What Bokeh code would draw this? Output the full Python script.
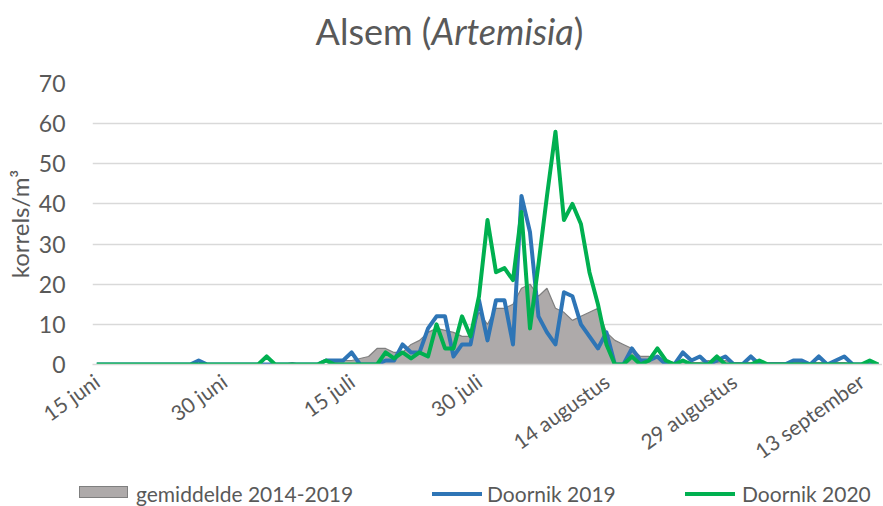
from bokeh.plotting import figure
from bokeh.models import Range1d, FixedTicker, Div
from bokeh.layouts import column
from bokeh.embed import file_html
from bokeh.resources import INLINE

# day index 0 = 15 juni
days = [
    0, 1, 2, 3, 4, 5, 6, 7, 8, 9,
    10, 11, 12, 13, 14, 15, 16, 17, 18, 19,
    20, 21, 22, 23, 24, 25, 26, 27, 28, 29,
    30, 31, 32, 33, 34, 35, 36, 37, 38, 39,
    40, 41, 42, 43, 44, 45, 46, 47, 48, 49,
    50, 51, 52, 53, 54, 55, 56, 57, 58, 59,
    60, 61, 62, 63, 64, 65, 66, 67, 68, 69,
    70, 71, 72, 73, 74, 75, 76, 77, 78, 79,
    80, 81, 82, 83, 84, 85, 86, 87, 88, 89,
    90, 91, 92,
]

gemiddelde = [
    0, 0, 0, 0, 0, 0, 0, 0, 0, 0,
    0, 0, 0, 0, 0, 0, 0, 0, 0, 0,
    0, 0, 0, 0.5, 0, 0, 0, 0, 0.5, 1,
    1, 1.5, 2, 4, 4, 3, 3, 5, 6, 8,
    9, 8.5, 8, 7, 7, 13, 10, 14, 14, 15,
    19, 20, 17, 19, 14, 13, 11, 12, 13, 14,
    8, 6, 5, 4, 2, 2, 1.5, 1, 0.5, 1,
    0.5, 0.5, 1, 0.5, 1, 0.5, 0.5, 0.5, 0.5, 0.5,
    0.5, 0.5, 0.5, 0.5, 0.5, 0.5, 0.5, 0.5, 0.5, 0.3,
    0.3, 0.3, 0.3,
]

doornik_2019 = [
    0, 0, 0, 0, 0, 0, 0, 0, 0, 0,
    0, 0, 1, 0, 0, 0, 0, 0, 0, 0,
    0, 0, 0, 0, 0, 0, 0, 1, 1, 1,
    3, 0, 0, 0, 1, 1, 5, 3, 3, 9,
    12, 12, 2, 5, 5, 16, 6, 16, 16, 5,
    42, 33, 12, 8, 5, 18, 17, 10, 7, 4,
    8, 0, 0, 4, 1, 1, 2, 0, 0, 3,
    1, 2, 0, 1, 2, 0, 0, 2, 0, 0,
    0, 0, 1, 1, 0, 2, 0, 1, 2, 0,
    0, 0, 0,
]

doornik_2020 = [
    0, 0, 0, 0, 0, 0, 0, 0, 0, 0,
    0, 0, 0, 0, 0, 0, 0, 0, 0, 0,
    2, 0, 0, 0, 0, 0, 0, 1, 0, 0,
    0, 0, 0, 0, 3, 1.5, 3, 1.5, 3, 2,
    10, 4, 4, 12, 7, 17, 36, 23, 24, 21,
    38, 9, 25, 42, 58, 36, 40, 35, 23, 15,
    5, 0, 0, 2, 0, 1, 4, 1, 0, 1,
    0, 0, 0, 2, 0, 0, 0, 0, 1, 0,
    0, 0, 0, 0, 0, 0, 0, 0, 0, 0,
    0, 1, 0,
]

x_tick_days = [0, 15, 30, 45, 60, 75, 90]
x_tick_labels = ["15 juni", "30 juni", "15 juli", "30 juli",
                 "14 augustus", "29 augustus", "13 september"]
y_ticks = [0, 10, 20, 30, 40, 50, 60, 70]

series_names = ["gemiddelde 2014-2019", "Doornik 2019", "Doornik 2020"]

TXT = "#595959"
FONT = "Lato"
AVG_FILL, AVG_LINE = "#AEAAAA", "#7F7F7F"
BLUE, GREEN = "#2E75B6", "#00B050"

title = Div(
    text=('<div style="width:882px;text-align:center;font-family:Lato;'
          'font-size:36px;color:#595959;line-height:44px;padding-top:9px;'
          'padding-left:17px;box-sizing:border-box;">'
          'Alsem (<i>Artemisia</i>)</div>'),
    width=882, height=60, margin=0,
)

p = figure(
    width=882, height=421,
    x_range=Range1d(-0.5, 92.5), y_range=Range1d(0, 70),
    output_backend="svg", toolbar_location=None,
    min_border_left=92, min_border_right=0,
    min_border_top=23, min_border_bottom=117,
    margin=0,
)
p.outline_line_color = None
p.background_fill_color = "white"
p.border_fill_color = "white"

p.xgrid.grid_line_color = None
p.ygrid.grid_line_color = "#d9d9d9"
p.ygrid.grid_line_width = 1.5

p.yaxis.ticker = FixedTicker(ticks=y_ticks)
p.yaxis.axis_line_color = None
p.yaxis.major_tick_line_color = None
p.yaxis.minor_tick_line_color = None
p.yaxis.major_label_text_font = FONT
p.yaxis.major_label_text_font_size = "23px"
p.yaxis.major_label_text_color = TXT
p.yaxis.major_label_standoff = 21
p.yaxis.axis_label = "korrels/m³"
p.yaxis.axis_label_text_font = FONT
p.yaxis.axis_label_text_font_size = "24px"
p.yaxis.axis_label_text_font_style = "normal"
p.yaxis.axis_label_text_color = TXT
p.yaxis.axis_label_standoff = 2

p.xaxis.ticker = FixedTicker(ticks=x_tick_days)
p.xaxis.major_label_overrides = {d: lab for d, lab in zip(x_tick_days, x_tick_labels)}
p.xaxis.major_label_orientation = 0.62
p.xaxis.major_label_text_font = FONT
p.xaxis.major_label_text_font_size = "21px"
p.xaxis.major_label_text_color = TXT
p.xaxis.major_label_standoff = 14
p.xaxis.major_tick_out = 0
p.xaxis.axis_line_color = "#d9d9d9"
p.xaxis.axis_line_width = 1.5
p.xaxis.major_tick_line_color = None
p.xaxis.minor_tick_line_color = None

p.patch(
    x=[days[0]] + days + [days[-1]],
    y=[0] + gemiddelde + [0],
    fill_color=AVG_FILL, line_color=AVG_LINE, line_width=1.2,
)
p.line(days, doornik_2019, line_color=BLUE, line_width=4, line_join="round")
p.line(days, doornik_2020, line_color=GREEN, line_width=4, line_join="round")

# legend strip below the chart
legend_html = (
    '<div style="position:relative;width:882px;height:25px;font-family:Lato;'
    'font-size:21px;color:#595959;line-height:25px;white-space:nowrap;">'
    f'<span style="position:absolute;left:79px;top:5px;width:49px;height:12px;'
    f'background:{AVG_FILL};border:1px solid {AVG_LINE};"></span>'
    f'<span style="position:absolute;left:136px;top:0;">{series_names[0]}</span>'
    f'<span style="position:absolute;left:432px;top:11px;width:50px;height:4px;'
    f'background:{BLUE};"></span>'
    f'<span style="position:absolute;left:487px;top:0;">{series_names[1]}</span>'
    f'<span style="position:absolute;left:685px;top:11px;width:50px;height:4px;'
    f'background:{GREEN};"></span>'
    f'<span style="position:absolute;left:742px;top:0;">{series_names[2]}</span>'
    '</div>'
)
legend_div = Div(text=legend_html, width=882, height=25, margin=0)

layout = column(title, p, legend_div, spacing=0, margin=0)
open("out.html", "w").write(file_html(layout, INLINE))
